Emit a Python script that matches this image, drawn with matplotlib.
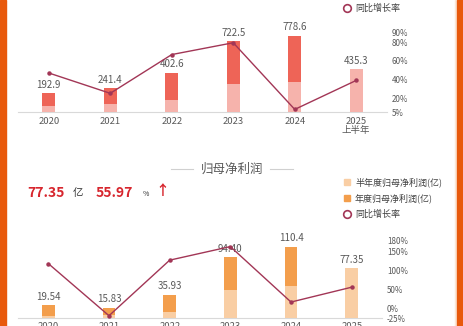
#!/usr/bin/env python3

# plot.py - revenue / net profit bars with yoy growth line

import matplotlib
matplotlib.use("Agg")
import matplotlib.pyplot as plt
from matplotlib.lines import Line2D
from matplotlib.patches import Rectangle
import numpy as np

W, H = 463, 326

years = ["2020", "2021", "2022", "2023", "2024", "2025\n上半年"]

# revenue (亿): annual value, half-year value, yoy %
rev_annual = [192.9, 241.4, 402.6, 722.5, 778.6, 0]
rev_half = [61, 82, 122, 286, 306, 435.3]
rev_labels = ["192.9", "241.4", "402.6", "722.5", "778.6", "435.3"]
rev_yoy = [47, 25.1, 66.8, 79.5, 7.8, 39]
rev_ticks = [5, 20, 40, 60, 80, 90]

# net profit (亿)
np_annual = [19.54, 15.83, 35.93, 94.40, 110.4, 0]
np_half = [3.6, 4.0, 8.8, 43, 49.6, 77.35]
np_labels = ["19.54", "15.83", "35.93", "94.40", "110.4", "77.35"]
np_yoy = [118, -19, 127, 162.7, 16.9, 55.97]
np_ticks = [-25, 0, 50, 100, 150, 180]

ORANGE = "#E8590C"
LINE = "#A23656"
GRAY = "#595959"

plt.rcParams["font.family"] = ["Noto Sans CJK SC", "DejaVu Sans"]

fig = plt.figure(figsize=(W / 100, H / 100), dpi=100, facecolor="white")


def px(x, y):
    return x / W, 1 - y / H


def box(left, top, right, bottom):
    return [left / W, 1 - bottom / H, (right - left) / W, (bottom - top) / H]


def bar_chart(rect, annual, half, labels, yoy, ticks, bar_max, yoy_lim,
              c_full, c_half, pad):
    ax = fig.add_axes(rect)
    x = np.arange(len(annual))
    ax.bar(x, annual, width=0.21, color=c_full, zorder=2)
    ax.bar(x, half, width=0.21, color=c_half, zorder=3)
    tops = [max(a, h) for a, h in zip(annual, half)]
    for xi, t, lab in zip(x, tops, labels):
        ax.annotate(lab, (xi, t), xytext=(0, 2.5), textcoords="offset points",
                    ha="center", va="bottom", fontsize=7, color=GRAY)
    ax.set_xlim(-0.5, 5.5)
    ax.set_ylim(0, bar_max)
    ax.set_xticks(x)
    ax.set_xticklabels(years, fontsize=6.8, color=GRAY, linespacing=1.0)
    ax.tick_params(axis="x", length=0, pad=pad)
    ax.set_yticks([])
    for s in ["top", "left", "right"]:
        ax.spines[s].set_visible(False)
    ax.spines["bottom"].set_color("#D9D9D9")
    ax.spines["bottom"].set_linewidth(0.8)
    ax.patch.set_alpha(0)

    ax2 = ax.twinx()
    ax2.plot(x, yoy, color=LINE, linewidth=1.0, marker="o", markersize=2.2, zorder=5)
    ax2.set_ylim(*yoy_lim)
    ax2.set_yticks(ticks)
    ax2.set_yticklabels([f"{t}%" for t in ticks], fontsize=5.8, color=GRAY)
    ax2.tick_params(axis="y", length=0, pad=3.5)
    for s in ax2.spines.values():
        s.set_visible(False)
    return ax, ax2


# top chart: revenue
bar_chart(box(18, 33, 387, 112), rev_annual, rev_half, rev_labels, rev_yoy, rev_ticks,
          806, (5, 90), "#EE6457", "#F6B3AC", 3.5)

# bottom chart: net profit
bar_chart(box(18, 240, 382, 318), np_annual, np_half, np_labels, np_yoy, np_ticks,
          121, (-25, 180), "#F39E4C", "#F9CEA4", 3.0)

# side bars
fig.add_artist(Rectangle(px(0, 326), 6 / W, 1, transform=fig.transFigure,
                         color=ORANGE, zorder=10))
fig.add_artist(Rectangle(px(455, 326), 2 / W, 1, transform=fig.transFigure,
                         color="#FBE6D6", zorder=10))
fig.add_artist(Rectangle(px(457, 326), 6 / W, 1, transform=fig.transFigure,
                         color=ORANGE, zorder=10))

# top legend (visible entry)
fig.add_artist(Line2D([347 / W], [1 - 8 / H], marker="o", markersize=5.5,
                      markerfacecolor="white", markeredgecolor=LINE,
                      markeredgewidth=1.2, transform=fig.transFigure))
fig.text(*px(355, 8), "同比增长率", fontsize=6.5, color="#404040", va="center")

# section title
fig.text(*px(232, 169), "归母净利润", fontsize=9, color=GRAY, ha="center", va="center")
fig.add_artist(Line2D([171 / W, 193 / W], [1 - 169 / H] * 2, color="#D0D0D0",
                      linewidth=0.8, transform=fig.transFigure))
fig.add_artist(Line2D([270 / W, 293 / W], [1 - 169 / H] * 2, color="#D0D0D0",
                      linewidth=0.8, transform=fig.transFigure))

# headline numbers
RED = "#D7262E"
fig.text(*px(27, 193), "77.35", fontsize=10, fontweight="bold", color=RED, va="center")
fig.text(*px(73, 193), "亿", fontsize=7.5, color="#333333", va="center")
fig.text(*px(96, 193), "55.97", fontsize=10, fontweight="bold", color=RED, va="center")
fig.text(*px(143, 194), "%", fontsize=5, color="#333333", va="center")
fig.text(*px(155, 191), "↑", fontsize=10, fontweight="bold", color=RED, va="center")

# bottom legend
leg = [("半年度归母净利润(亿)", "#F9CEA4", "s"),
       ("年度归母净利润(亿)", "#F39E4C", "s"),
       ("同比增长率", LINE, "o")]
for i, (name, col, mk) in enumerate(leg):
    y = 182 + 16 * i
    if mk == "s":
        fig.add_artist(Line2D([347 / W], [1 - y / H], marker="s", markersize=5,
                              color=col, transform=fig.transFigure))
    else:
        fig.add_artist(Line2D([347 / W], [1 - y / H], marker="o", markersize=5.5,
                              markerfacecolor="white", markeredgecolor=col,
                              markeredgewidth=1.2, transform=fig.transFigure))
    fig.text(*px(355, y), name, fontsize=6.5, color="#404040", va="center")

fig.savefig("out.png", dpi=100, facecolor="white")
